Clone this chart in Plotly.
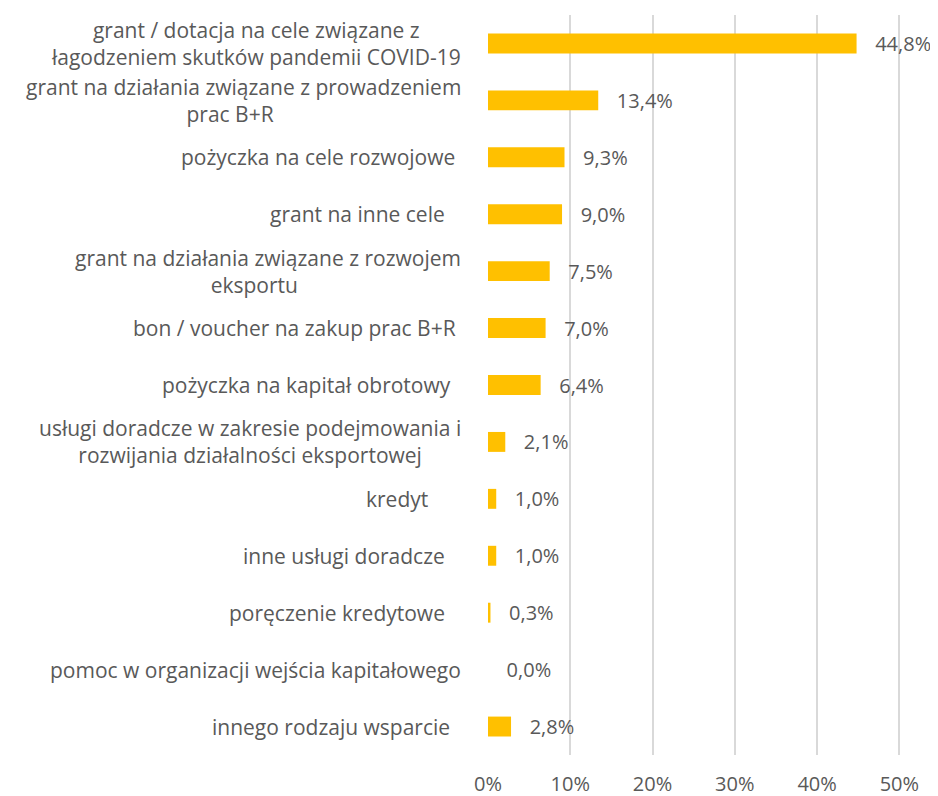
import plotly.graph_objects as go

NB = "\u00a0"

categories = [
    "grant / dotacja na cele związane z<br>łagodzeniem skutków pandemii COVID-19",
    "grant na działania związane z prowadzeniem<br>prac B+R" + NB * 5,
    "pożyczka na cele rozwojowe" + NB,
    "grant na inne cele" + NB * 3,
    "grant na działania związane z rozwojem<br>eksportu" + NB * 5,
    "bon / voucher na zakup prac B+R" + NB,
    "pożyczka na kapitał obrotowy" + NB * 2,
    "usługi doradcze w zakresie podejmowania i<br>rozwijania działalności eksportowej",
    "kredyt" + NB * 6,
    "inne usługi doradcze" + NB * 3,
    "poręczenie kredytowe" + NB * 3,
    "pomoc w organizacji wejścia kapitałowego",
    "innego rodzaju wsparcie" + NB * 2,
]
values = [44.8, 13.4, 9.3, 9.0, 7.5, 7.0, 6.4, 2.1, 1.0, 1.0, 0.3, 0.0, 2.8]
tick_values = [0, 10, 20, 30, 40, 50]
tick_labels = ["0%", "10%", "20%", "30%", "40%", "50%"]

FONT = "Open Sans"
GRAY = "#595959"

ids = list(range(len(categories)))

fig = go.Figure()
fig.add_trace(go.Bar(
    x=values,
    y=ids,
    orientation="h",
    marker=dict(color="#FFC000", line=dict(width=0)),
    width=0.35,
    text=[NB * 3 + f"{v:.1f}".replace(".", ",") + "%" for v in values],
    textposition="outside",
    constraintext="none",
    textfont=dict(family=FONT, size=20, color=GRAY),
    cliponaxis=False,
    hoverinfo="skip",
))

for i, c in zip(ids, categories):
    fig.add_annotation(
        x=0, xref="paper", xshift=-25,
        y=i, yref="y",
        text=c, showarrow=False,
        xanchor="right", yanchor="middle", align="center",
        font=dict(family=FONT, size=21, color=GRAY),
    )

fig.update_layout(
    width=930, height=788,
    margin=dict(l=480, r=37, t=7, b=41, autoexpand=False),
    plot_bgcolor="white", paper_bgcolor="white",
    showlegend=False,
    xaxis=dict(
        range=[0, 50.2],
        tickvals=tick_values,
        ticktext=tick_labels,
        automargin=False,
        showgrid=True, gridcolor="#D9D9D9", gridwidth=1.5,
        zeroline=False, showline=False,
        ticks="outside", ticklen=11, tickcolor="rgba(0,0,0,0)",
        tickfont=dict(family=FONT, size=20, color=GRAY),
    ),
    yaxis=dict(
        range=[len(categories) - 0.5, -0.5],
        automargin=False,
        showticklabels=False, showgrid=False, zeroline=False,
        tickvals=ids,
    ),
)

fig.write_html("out.html")
